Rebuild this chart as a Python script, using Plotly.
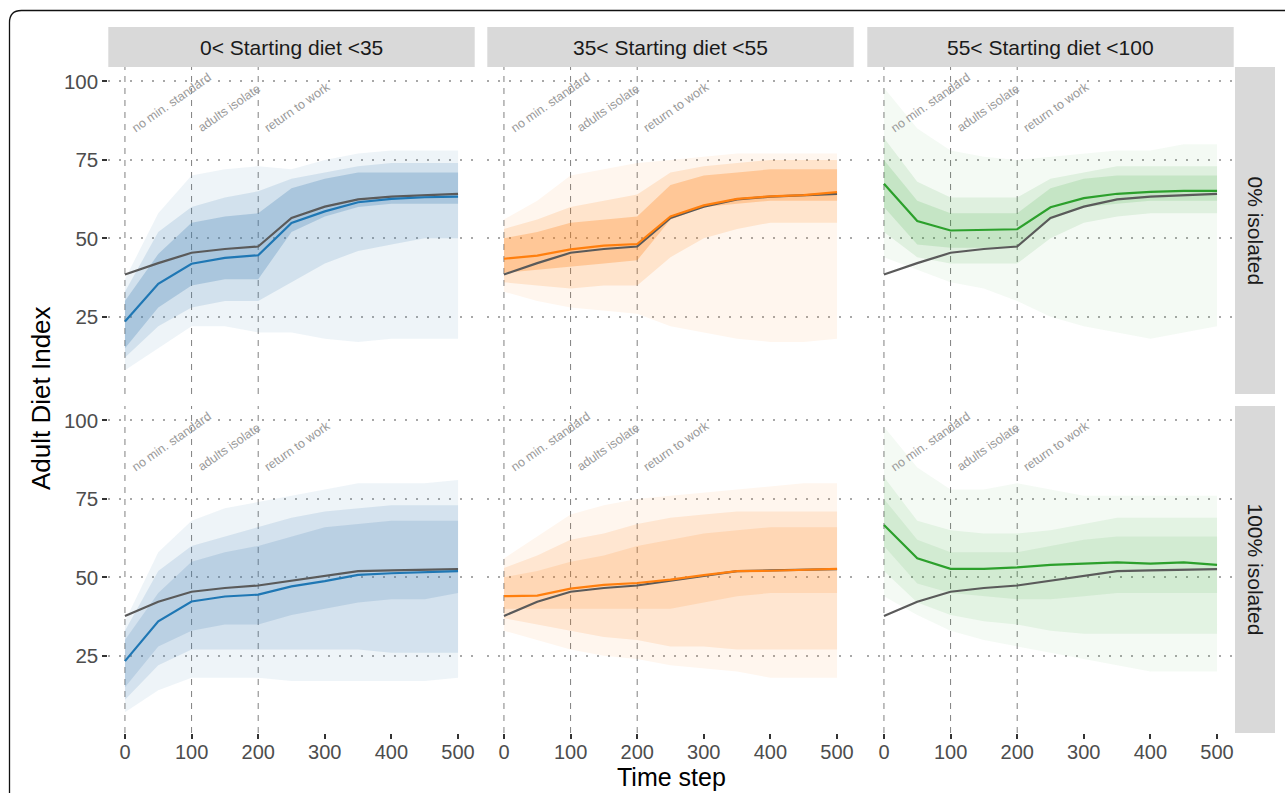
import plotly.graph_objects as go

W, H = 1285, 793

# ---------------- data ----------------
time_steps = [0, 50, 100, 150, 200, 250, 300, 350, 400, 450, 500]
col_labels = ["0< Starting diet <35", "35< Starting diet <55", "55< Starting diet <100"]
row_labels = ["0% isolated", "100% isolated"]
event_x = [0, 100, 200]
event_labels = ["no min. standard", "adults isolate", "return to work"]

# overall mean (grey) per row
overall_0 = [38.5, 42.1, 45.4, 46.6, 47.4, 56.5, 60.1, 62.4, 63.3, 63.7, 64.2]
overall_100 = [37.7, 42.2, 45.4, 46.6, 47.4, 48.9, 50.3, 52.0, 52.2, 52.4, 52.6]

# group means
mean_low_0 = [23.5, 35.5, 41.9, 43.8, 44.6, 54.9, 58.6, 61.5, 62.6, 63.1, 63.3]
mean_mid_0 = [43.5, 44.5, 46.5, 47.7, 48.2, 57.0, 60.5, 62.6, 63.4, 63.8, 64.7]
mean_high_0 = [67.4, 55.5, 52.5, 52.7, 52.9, 59.9, 62.8, 64.2, 64.8, 65.1, 65.1]
mean_low_100 = [23.3, 36.0, 42.3, 43.9, 44.5, 47.1, 48.8, 50.8, 51.3, 51.6, 52.0]
mean_mid_100 = [44.0, 44.2, 46.4, 47.6, 48.2, 49.3, 50.7, 52.0, 52.1, 52.4, 52.7]
mean_high_100 = [66.7, 56.1, 52.7, 52.7, 53.2, 54.0, 54.4, 54.8, 54.4, 54.8, 54.0]

# spread of individual trajectories: full range, common range and densest range
low_0_outer_lo = [8, 15, 22, 22, 20, 20, 18, 17, 18, 18, 18]
low_0_outer_hi = [37, 58, 70, 72, 73, 72, 75, 77, 78, 78, 78]
low_0_inner_lo = [12, 22, 28, 30, 30, 36, 42, 46, 48, 50, 50]
low_0_inner_hi = [33, 52, 60, 63, 65, 69, 71, 73, 74, 74, 74]
low_0_core_lo = [15, 28, 35, 37, 37, 52, 57, 60, 61, 61, 61]
low_0_core_hi = [30, 45, 55, 57, 58, 66, 69, 71, 71, 71, 71]

mid_0_outer_lo = [33, 30, 28, 27, 26, 22, 20, 18, 17, 17, 18]
mid_0_outer_hi = [56, 62, 70, 72, 74, 75, 76, 77, 77, 77, 77]
mid_0_inner_lo = [36, 35, 34, 35, 35, 44, 50, 53, 55, 55, 55]
mid_0_inner_hi = [53, 56, 60, 62, 64, 71, 73, 74, 75, 75, 75]
mid_0_core_lo = [39, 40, 41, 42, 43, 56, 60, 61, 62, 62, 62]
mid_0_core_hi = [50, 52, 55, 56, 57, 67, 70, 71, 72, 72, 72]

high_0_outer_lo = [44, 40, 36, 34, 30, 25, 22, 20, 18, 20, 22]
high_0_outer_hi = [98, 85, 78, 76, 75, 76, 77, 78, 78, 80, 80]
high_0_inner_lo = [52, 44, 42, 42, 42, 50, 55, 57, 58, 58, 58]
high_0_inner_hi = [82, 68, 63, 63, 63, 69, 71, 73, 73, 73, 73]
high_0_core_lo = [60, 48, 47, 47, 47, 56, 60, 61, 62, 62, 62]
high_0_core_hi = [75, 62, 58, 58, 58, 66, 69, 70, 70, 70, 70]

low_100_outer_lo = [7, 14, 18, 18, 18, 17, 17, 17, 17, 17, 18]
low_100_outer_hi = [36, 58, 68, 72, 74, 76, 78, 80, 80, 80, 81]
low_100_inner_lo = [11, 22, 27, 27, 27, 27, 27, 27, 26, 26, 26]
low_100_inner_hi = [33, 52, 60, 63, 66, 69, 71, 72, 73, 73, 73]
low_100_core_lo = [15, 28, 33, 35, 35, 38, 40, 42, 43, 43, 45]
low_100_core_hi = [30, 45, 55, 58, 60, 63, 66, 67, 68, 68, 68]

mid_100_outer_lo = [33, 30, 27, 25, 24, 22, 21, 20, 18, 18, 18]
mid_100_outer_hi = [56, 63, 70, 73, 75, 76, 77, 78, 79, 80, 80]
mid_100_inner_lo = [37, 35, 33, 31, 30, 28, 28, 27, 27, 27, 27]
mid_100_inner_hi = [53, 57, 62, 64, 67, 69, 70, 71, 71, 71, 71]
mid_100_core_lo = [40, 40, 40, 40, 40, 40, 42, 44, 45, 45, 45]
mid_100_core_hi = [50, 52, 55, 57, 60, 62, 64, 65, 66, 66, 66]

high_100_outer_lo = [44, 38, 33, 30, 28, 26, 24, 22, 20, 20, 20]
high_100_outer_hi = [98, 85, 78, 78, 80, 78, 76, 76, 76, 76, 76]
high_100_inner_lo = [52, 42, 38, 36, 35, 33, 32, 32, 32, 32, 32]
high_100_inner_hi = [82, 68, 65, 64, 64, 65, 67, 69, 69, 69, 69]
high_100_core_lo = [60, 48, 45, 44, 43, 43, 44, 45, 45, 45, 45]
high_100_core_hi = [75, 62, 58, 58, 58, 60, 62, 63, 63, 63, 63]

panels = [
    (0, 0, mean_low_0, overall_0,
     (low_0_outer_lo, low_0_outer_hi), (low_0_inner_lo, low_0_inner_hi), (low_0_core_lo, low_0_core_hi)),
    (0, 1, mean_mid_0, overall_0,
     (mid_0_outer_lo, mid_0_outer_hi), (mid_0_inner_lo, mid_0_inner_hi), (mid_0_core_lo, mid_0_core_hi)),
    (0, 2, mean_high_0, overall_0,
     (high_0_outer_lo, high_0_outer_hi), (high_0_inner_lo, high_0_inner_hi), (high_0_core_lo, high_0_core_hi)),
    (1, 0, mean_low_100, overall_100,
     (low_100_outer_lo, low_100_outer_hi), (low_100_inner_lo, low_100_inner_hi), (low_100_core_lo, low_100_core_hi)),
    (1, 1, mean_mid_100, overall_100,
     (mid_100_outer_lo, mid_100_outer_hi), (mid_100_inner_lo, mid_100_inner_hi), (mid_100_core_lo, mid_100_core_hi)),
    (1, 2, mean_high_100, overall_100,
     (high_100_outer_lo, high_100_outer_hi), (high_100_inner_lo, high_100_inner_hi), (high_100_core_lo, high_100_core_hi)),
]

# ---------------- styling ----------------
line_colors = ["#1f77b4", "#ff7f0e", "#2ca02c"]
band_rgb = ["70,130,180", "255,127,14", "44,160,44"]
band_alpha = [
    [[0.09, 0.16, 0.28], [0.07, 0.15, 0.28], [0.05, 0.10, 0.14]],   # row 0
    [[0.09, 0.15, 0.18], [0.07, 0.13, 0.14], [0.05, 0.08, 0.09]],   # row 1
]
grey_line = "#5a5a5a"
FONT = "Liberation Sans, Arial, Helvetica, sans-serif"

col_px = [(108.3, 474.7), (487.3, 853.7), (867.3, 1233.7)]
row_px = [(67, 394), (406, 733)]

def fx(px):
    return px / W

def fy(py):
    return 1 - py / H

fig = go.Figure()
layout = {}
shapes = []
annotations = []

for (r, c, mean, overall, outer, inner, core) in panels:
    idx = r * 3 + c + 1
    xa = "x" if idx == 1 else f"x{idx}"
    ya = "y" if idx == 1 else f"y{idx}"
    xkey = "xaxis" if idx == 1 else f"xaxis{idx}"
    ykey = "yaxis" if idx == 1 else f"yaxis{idx}"

    rgb = band_rgb[c]
    for k, (lo, hi) in enumerate([outer, inner, core]):
        fig.add_trace(go.Scatter(
            x=time_steps + time_steps[::-1], y=hi + lo[::-1],
            fill="toself", fillcolor=f"rgba({rgb},{band_alpha[r][c][k]})",
            line=dict(width=0), mode="lines",
            hoverinfo="skip", showlegend=False, xaxis=xa, yaxis=ya))
    fig.add_trace(go.Scatter(
        x=time_steps, y=overall, mode="lines",
        line=dict(color=grey_line, width=2.2),
        showlegend=False, xaxis=xa, yaxis=ya))
    fig.add_trace(go.Scatter(
        x=time_steps, y=mean, mode="lines",
        line=dict(color=line_colors[c], width=2.2),
        showlegend=False, xaxis=xa, yaxis=ya))

    x0, x1 = col_px[c]
    y0, y1 = row_px[r]
    layout[xkey] = dict(
        domain=[fx(x0), fx(x1)], range=[-25, 525], anchor=ya,
        showgrid=False, zeroline=False, showline=False,
        tickvals=[0, 100, 200, 300, 400, 500],
        showticklabels=(r == 1), ticks="outside" if r == 1 else "",
        ticklen=5, tickwidth=2, tickcolor="#333333", ticklabelstandoff=-4,
        tickfont=dict(family=FONT, size=20, color="#4d4d4d"),
    )
    layout[ykey] = dict(
        domain=[fy(y1), fy(y0)], range=[0.4, 104.6], anchor=xa,
        showgrid=True, gridcolor="#a8a8a8", gridwidth=1.6, griddash="2px,9px",
        zeroline=False, showline=False,
        tickvals=[25, 50, 75, 100],
        showticklabels=(c == 0), ticks="outside" if c == 0 else "",
        ticklen=5, tickwidth=2, tickcolor="#333333",
        tickfont=dict(family=FONT, size=20.5, color="#4d4d4d"),
    )

    for ex, lab in zip(event_x, event_labels):
        shapes.append(dict(type="line", xref=xa, yref=f"{ya} domain",
                           x0=ex, x1=ex, y0=0, y1=1, layer="below",
                           line=dict(color="#808080", width=1, dash="6px,6px")))
        annotations.append(dict(x=ex + 2, y=82, xref=xa, yref=ya, text=lab,
                                showarrow=False, textangle=-35,
                                xanchor="left", yanchor="bottom",
                                font=dict(family=FONT, size=12.5, color="#9a9a9a")))

# strips
for c, lab in enumerate(col_labels):
    x0, x1 = col_px[c]
    shapes.append(dict(type="rect", xref="paper", yref="paper",
                       x0=fx(x0), x1=fx(x1), y0=fy(67), y1=fy(27),
                       fillcolor="#d9d9d9", line=dict(width=0), layer="below"))
    annotations.append(dict(x=fx((x0 + x1) / 2), y=fy(47), xref="paper", yref="paper",
                            xanchor="center", yanchor="middle",
                            text=lab, showarrow=False,
                            font=dict(family=FONT, size=21, color="#1a1a1a")))
for r, lab in enumerate(row_labels):
    y0, y1 = row_px[r]
    shapes.append(dict(type="rect", xref="paper", yref="paper",
                       x0=fx(1235), x1=fx(1275), y0=fy(y1), y1=fy(y0),
                       fillcolor="#d9d9d9", line=dict(width=0), layer="below"))
    annotations.append(dict(x=fx(1255), y=fy((y0 + y1) / 2), xref="paper", yref="paper",
                            xanchor="center", yanchor="middle",
                            text=lab, showarrow=False, textangle=90,
                            font=dict(family=FONT, size=21, color="#1a1a1a")))

# axis titles
annotations.append(dict(x=fx(41), y=fy(398), xref="paper", yref="paper",
                        xanchor="center", yanchor="middle",
                        text="Adult Diet Index", showarrow=False, textangle=-90,
                        font=dict(family=FONT, size=26, color="#000000")))
annotations.append(dict(x=fx(671), y=fy(777), xref="paper", yref="paper",
                        xanchor="center", yanchor="middle",
                        text="Time step", showarrow=False,
                        font=dict(family=FONT, size=25, color="#000000")))

# outer frame with rounded top-left corner
rad = 12
shapes.append(dict(type="path", xref="paper", yref="paper",
                   path=(f"M {fx(1290)},{fy(10.5)} L {fx(9.5 + rad)},{fy(10.5)} "
                         f"Q {fx(9.5)},{fy(10.5)} {fx(9.5)},{fy(10.5 + rad)} "
                         f"L {fx(9.5)},{fy(800)}"),
                   line=dict(color="#111111", width=1.3)))

fig.update_layout(
    width=W, height=H,
    margin=dict(l=0, r=0, t=0, b=0),
    paper_bgcolor="white", plot_bgcolor="rgba(0,0,0,0)",
    showlegend=False,
    shapes=shapes, annotations=annotations,
    **layout,
)

fig.write_html("out.html")
